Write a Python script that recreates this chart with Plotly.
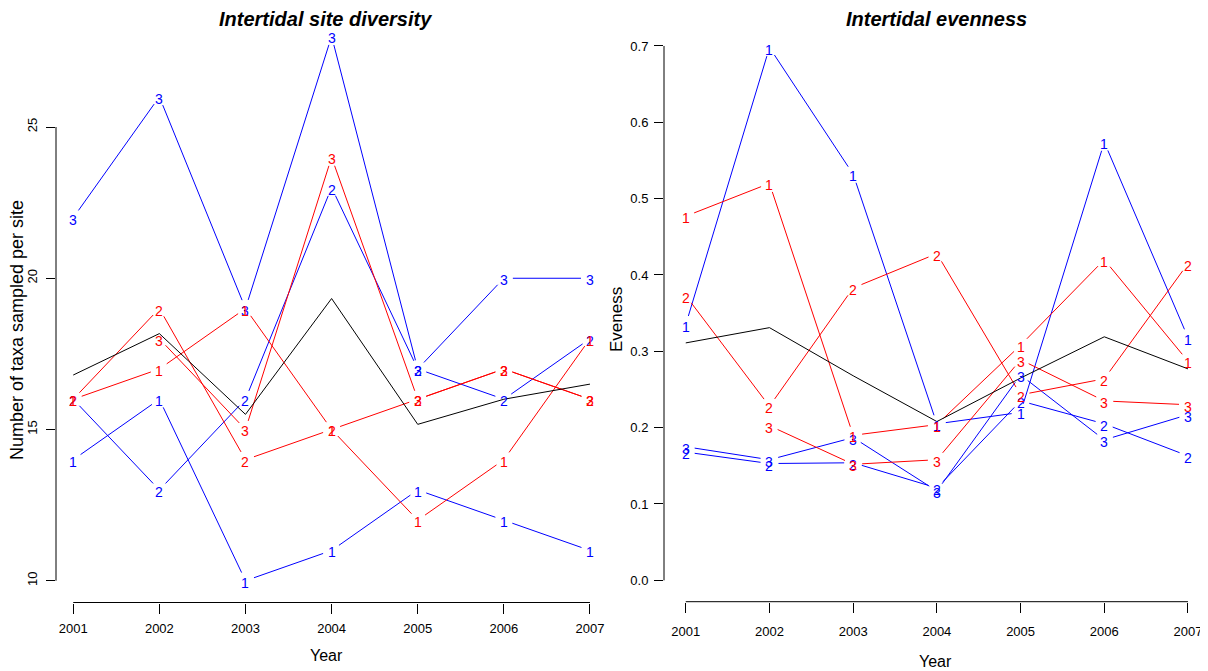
import math
import plotly.graph_objects as go

years = [2001, 2002, 2003, 2004, 2005, 2006, 2007]

# ---- Intertidal site diversity (number of taxa sampled per site) ----
div_blue_1 = [14, 16, 10, 11, 13, 12, 11]
div_blue_2 = [16, 13, 16, 23, 17, 16, 18]
div_blue_3 = [22, 26, 19, 28, 17, 20, 20]
div_red_1 = [16, 17, 19, 15, 12, 14, 18]
div_red_2 = [16, 19, 14, 15, 16, 17, 16]
div_red_3 = [None, 18, 15, 24, 16, 17, 16]
div_mean = [16.8, 18.17, 15.5, 19.33, 15.17, 16.0, 16.5]
div_yticks = [10, 15, 20, 25]

# ---- Intertidal evenness ----
even_blue_1 = [0.335, 0.698, 0.532, 0.205, 0.220, 0.574, 0.318]
even_blue_2 = [0.168, 0.153, 0.154, 0.121, 0.235, 0.205, 0.163]
even_blue_3 = [0.175, 0.158, 0.187, 0.117, 0.269, 0.184, 0.217]
even_red_1 = [0.477, 0.520, 0.190, 0.204, 0.308, 0.420, 0.287]
even_red_2 = [0.373, 0.228, 0.383, 0.428, 0.243, 0.264, 0.415]
even_red_3 = [None, 0.2025, 0.152, 0.158, 0.289, 0.235, 0.230]
even_mean = [0.311, 0.331, 0.268, 0.208, 0.265, 0.319, 0.277]
even_yticks = [0.0, 0.1, 0.2, 0.3, 0.4, 0.5, 0.6, 0.7]

BLUE = "#0000FF"
RED = "#FF0000"
FONT = "Liberation Sans, Arial, sans-serif"

PAGE_W, PAGE_H = 1208, 671
OFF = 8  # default body margin of the html page
W, H = PAGE_W - OFF, PAGE_H - OFF
# page-pixel boxes of the two plot regions: (left, right, top, bottom)
L_box = (56, 607.2, 14.5, 602.5)
R_box = (664, 1208, 24.6, 601.7)
xL_range = [2000.8, 2007.2]
yL_range = [9.28, 28.72]
xR_range = [2000.74, 2007.239]
yR_range = [-0.028, 0.728]
GAP = 9  # px gap around the number symbols (R type="b")


def dom(box):
    l, r, t, b = box
    return ([(l - OFF) / W, min(1.0, (r - OFF) / W)],
            [1 - (b - OFF) / H, 1 - (t - OFF) / H])


def scales(box, xr, yr):
    l, r, t, b = box
    return (r - l) / (xr[1] - xr[0]), (b - t) / (yr[1] - yr[0])


def gapped(xs, ys, sx, sy):
    gx, gy = [], []
    for i in range(len(xs) - 1):
        x1, y1, x2, y2 = xs[i], ys[i], xs[i + 1], ys[i + 1]
        if y1 is None or y2 is None:
            continue
        dx, dy = (x2 - x1) * sx, (y2 - y1) * sy
        L = math.hypot(dx, dy)
        if L <= 2 * GAP:
            continue
        t = GAP / L
        gx += [x1 + t * (x2 - x1), x2 - t * (x2 - x1), None]
        gy += [y1 + t * (y2 - y1), y2 - t * (y2 - y1), None]
    return gx, gy


fig = go.Figure()
annotations = []

panels = [
    ("x", "y", L_box, xL_range, yL_range,
     [(div_blue_1, BLUE, "1"), (div_blue_2, BLUE, "2"), (div_blue_3, BLUE, "3"),
      (div_red_1, RED, "1"), (div_red_2, RED, "2"), (div_red_3, RED, "3")], div_mean),
    ("x2", "y2", R_box, xR_range, yR_range,
     [(even_blue_1, BLUE, "1"), (even_blue_2, BLUE, "2"), (even_blue_3, BLUE, "3"),
      (even_red_1, RED, "1"), (even_red_2, RED, "2"), (even_red_3, RED, "3")], even_mean),
]

for xa, ya, box, xr, yr, series, mean in panels:
    sx, sy = scales(box, xr, yr)
    for vals, col, lab in series:
        gx, gy = gapped(years, vals, sx, sy)
        fig.add_trace(go.Scatter(x=gx, y=gy, mode="lines", xaxis=xa, yaxis=ya,
                                 line=dict(color=col, width=1), hoverinfo="skip",
                                 showlegend=False))
    fig.add_trace(go.Scatter(x=years, y=mean, mode="lines", xaxis=xa, yaxis=ya,
                             line=dict(color="black", width=1), showlegend=False))
    for vals, col, lab in series:
        for x, v in zip(years, vals):
            if v is None:
                continue
            annotations.append(dict(
                x=x, y=v, xref=xa, yref=ya, text=lab, showarrow=False,
                xanchor="center", yanchor="middle", yshift=-2,
                font=dict(family=FONT, size=14, color=col)))

xdL, ydL = dom(L_box)
xdR, ydR = dom(R_box)

common_x = dict(showgrid=False, zeroline=False, showline=False,
                ticks="outside", ticklen=10, tickwidth=1, tickcolor="black",
                tickmode="array", tickvals=years, ticktext=[str(y) for y in years],
                tickfont=dict(family=FONT, size=13, color="black"))
common_y = dict(showgrid=False, zeroline=False, showline=False,
                ticks="outside", ticklen=9, tickwidth=1, tickcolor="black",
                tickmode="array", tickfont=dict(family=FONT, size=13, color="black"))

fig.update_layout(
    width=W, height=H, margin=dict(l=0, r=0, t=0, b=0),
    paper_bgcolor="white", plot_bgcolor="white", showlegend=False,
    xaxis=dict(common_x, range=xL_range, domain=xdL, anchor="y", ticklabelstandoff=4),
    yaxis=dict(common_y, range=yL_range, domain=ydL, anchor="x",
               tickvals=div_yticks, ticktext=[str(v) for v in div_yticks],
               tickangle=-90, ticklabelstandoff=4),
    xaxis2=dict(common_x, range=xR_range, domain=xdR, anchor="y2", ticklabelstandoff=8),
    yaxis2=dict(common_y, range=yR_range, domain=ydR, anchor="x2",
                tickvals=even_yticks, ticktext=["%.1f" % v for v in even_yticks],
                ticklabelstandoff=3),
)

shapes = [
    dict(type="line", xref="x domain", yref="y", x0=0, x1=0,
         y0=min(div_yticks), y1=max(div_yticks), line=dict(color="black", width=1)),
    dict(type="line", xref="x", yref="y domain", x0=years[0], x1=years[-1],
         y0=0, y1=0, line=dict(color="black", width=1)),
    dict(type="line", xref="x2 domain", yref="y2", x0=0, x1=0,
         y0=min(even_yticks), y1=max(even_yticks), line=dict(color="black", width=1)),
    dict(type="line", xref="x2", yref="y2 domain", x0=years[0], x1=years[-1],
         y0=0, y1=0, line=dict(color="black", width=1)),
]
fig.update_layout(shapes=shapes)


def ann(text, px, py, size, angle=0):
    return dict(text=text, x=(px - OFF) / W, y=1 - (py - OFF) / H,
                xref="paper", yref="paper",
                xanchor="center", yanchor="middle", showarrow=False, textangle=angle,
                font=dict(family=FONT, size=size, color="black"))


annotations += [
    ann("<b><i>Intertidal site diversity</i></b>", 325, 19, 20),
    ann("<b><i>Intertidal evenness</i></b>", 936, 19, 20),
    ann("Year", 326, 655, 16),
    ann("Year", 935, 661, 16),
    ann("Number of taxa sampled per site", 17, 330, 18, -90),
    ann("Eveness", 616, 320, 17, -90),
]
fig.update_layout(annotations=annotations)

fig.write_html("out.html")
